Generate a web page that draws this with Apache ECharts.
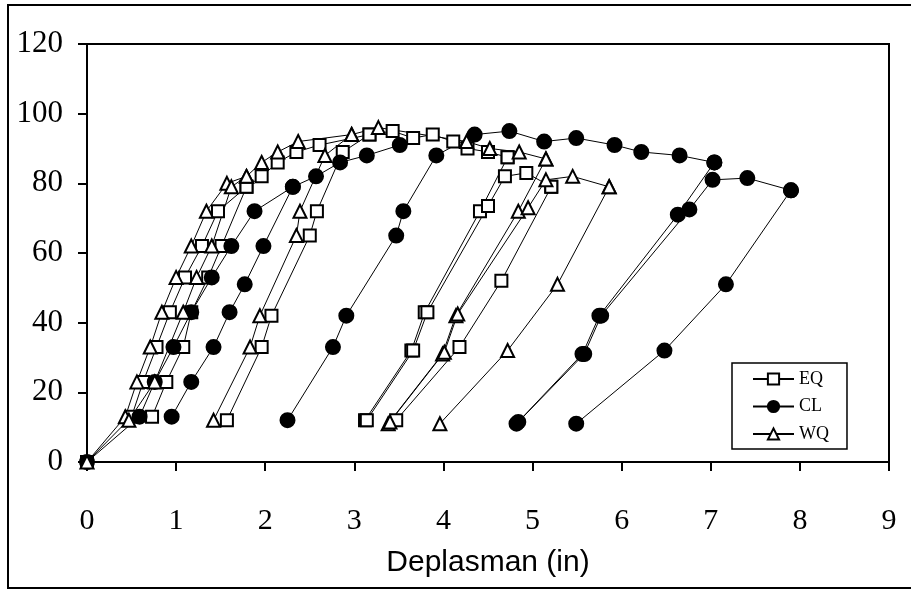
<!DOCTYPE html>
<html>
<head>
<meta charset="utf-8">
<script src="https://cdn.jsdelivr.net/npm/echarts@6/dist/echarts.min.js"></script>
<style>
html, body { margin: 0; padding: 0; background: #fff; }
#chart { width: 911px; height: 590px; }
</style>
</head>
<body>
<div id="chart"></div>
<script>
// axis ticks
const xTicks = [0, 1, 2, 3, 4, 5, 6, 7, 8, 9];
const yTicks = [0, 20, 40, 60, 80, 100, 120];

// each run = one loading / reloading branch [deplasman, yük]
const eqRuns = [
  [[0,0],[0.50,13],[0.63,23],[0.78,33],[0.93,43],[1.10,53],[1.29,62],[1.47,72],[1.79,79],[1.96,82],[2.14,86],[2.35,89],[2.61,91],[3.17,94],[3.43,95],[3.66,93],[3.88,94],[4.11,92],[4.27,90],[4.50,89],[4.72,87.5]],
  [[0.73,13],[0.89,23],[1.08,33],[1.17,43],[1.36,53],[1.51,62],[1.79,79]],
  [[1.57,12],[1.96,33],[2.07,42],[2.50,65],[2.58,72],[2.87,89],[3.17,94]],
  [[3.12,12],[3.64,32],[3.79,43],[4.41,72],[4.72,87.5]],
  [[3.14,12],[3.66,32],[3.82,43],[4.50,73.5],[4.69,82],[4.93,83],[5.21,79]],
  [[3.47,12],[4.18,33],[4.65,52],[5.21,79]]
];
const clRuns = [
  [[0,0],[0.59,13],[0.76,23],[0.97,33],[1.17,43],[1.40,53],[1.62,62],[1.88,72],[2.31,79],[2.57,82],[2.84,86],[3.14,88],[3.51,91]],
  [[0.95,13],[1.17,23],[1.42,33],[1.60,43],[1.77,51],[1.98,62],[2.31,79]],
  [[2.25,12],[2.76,33],[2.91,42],[3.47,65],[3.55,72],[3.92,88],[4.35,94],[4.74,95],[5.13,92],[5.49,93],[5.92,91],[6.22,89],[6.65,88],[7.04,86]],
  [[4.82,11],[5.56,31],[5.75,42],[6.63,71],[7.04,86]],
  [[4.84,11.5],[5.58,31],[5.77,42],[6.76,72.5],[7.02,81],[7.41,81.5],[7.90,78]],
  [[5.49,11],[6.48,32],[7.17,51],[7.90,78]]
];
const wqRuns = [
  [[0,0],[0.43,13],[0.56,23],[0.71,33],[0.84,43],[1.00,53],[1.17,62],[1.34,72],[1.57,80],[1.79,82],[1.96,86],[2.14,89],[2.37,92],[2.97,94],[3.27,96],[4.26,92],[4.52,90],[4.85,89],[5.15,87]],
  [[0.47,12],[0.76,23],[1.08,43],[1.23,53],[1.40,62],[1.62,79],[1.79,82]],
  [[1.42,12],[1.83,33],[1.94,42],[2.35,65],[2.39,72],[2.67,88],[2.97,94]],
  [[3.38,11],[3.99,31],[4.14,42],[4.84,72],[5.15,87]],
  [[3.40,11.5],[4.01,31.5],[4.16,42.5],[4.95,73],[5.15,81],[5.45,82],[5.86,79]],
  [[3.96,11],[4.72,32],[5.28,51],[5.86,79]]
];

const serif = 'Liberation Serif';

function makeSeries(name, runs, symbol, size) {
  return runs.map(function (run) {
    return {
      name: name,
      type: 'line',
      data: run,
      symbol: symbol,
      symbolSize: size,
      showAllSymbol: true,
      lineStyle: { color: '#000', width: 1 },
      itemStyle: { color: '#000', borderColor: '#000', borderWidth: 2 },
      emphasis: { disabled: true }
    };
  });
}

const series = []
  .concat(makeSeries('EQ', eqRuns, 'emptyRect', 12))
  .concat(makeSeries('CL', clRuns, 'circle', 14))
  .concat(makeSeries('WQ', wqRuns, 'emptyTriangle', 13));

const myChart = echarts.init(document.getElementById('chart'));
myChart.setOption({
  animation: false,
  backgroundColor: '#fff',
  grid: {
    left: 87, right: 22, top: 44, bottom: 128,
    show: true, borderColor: '#000', borderWidth: 2
  },
  xAxis: {
    type: 'value',
    min: xTicks[0], max: xTicks[xTicks.length - 1], interval: 1,
    name: 'Deplasman (in)',
    nameLocation: 'middle',
    nameGap: 86,
    nameTextStyle: { fontFamily: 'Liberation Sans', fontSize: 30, color: '#000' },
    axisLine: { lineStyle: { color: '#000', width: 2 } },
    axisTick: { length: 9, lineStyle: { color: '#000', width: 2 } },
    axisLabel: { margin: 44, fontFamily: serif, fontSize: 30, color: '#000' },
    splitLine: { show: false }
  },
  yAxis: {
    type: 'value',
    min: yTicks[0], max: yTicks[yTicks.length - 1], interval: 20,
    axisLine: { show: true, lineStyle: { color: '#000', width: 2 } },
    axisTick: { show: true, length: 9, lineStyle: { color: '#000', width: 2 } },
    axisLabel: { margin: 24, fontFamily: serif, fontSize: 31, color: '#000' },
    splitLine: { show: false }
  },
  legend: {
    data: ['EQ', 'CL', 'WQ'],
    orient: 'vertical',
    left: 732, top: 363,
    padding: [7, 18, 6, 20],
    itemWidth: 41, itemHeight: 14, itemGap: 9.5,
    borderColor: '#000', borderWidth: 1.5,
    backgroundColor: '#fff',
    textStyle: { fontFamily: serif, fontSize: 18, color: '#000' }
  },
  // frame of the scanned figure
  graphic: [{
    type: 'rect',
    shape: { x: 8, y: 5, width: 910, height: 583 },
    style: { fill: 'none', stroke: '#000', lineWidth: 2 },
    silent: true
  }],
  series: series
});
</script>
</body>
</html>
